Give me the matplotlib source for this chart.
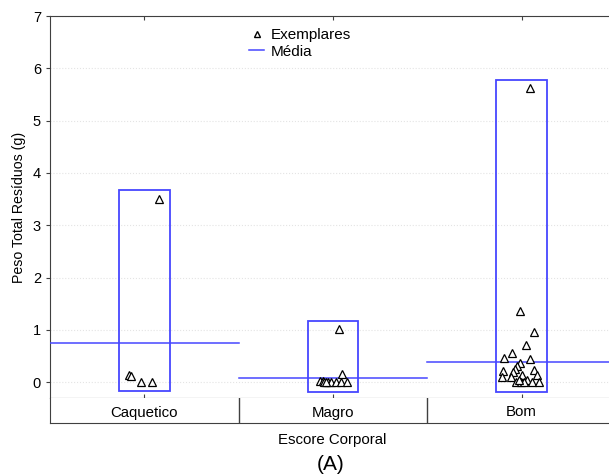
import matplotlib.pyplot as plt
from matplotlib.lines import Line2D

plt.rcParams['font.family'] = ['Liberation Sans', 'DejaVu Sans']

# dados
categorias = ["Caquetico", "Magro", "Bom"]
caixa_min = [-0.17, -0.18, -0.18]
caixa_max = [3.67, 1.17, 5.78]
medias = [0.75, 0.09, 0.39]

caq_valores = [3.51, 0.13, 0.12, 0.0, 0.0]
caq_desloc = [0.08, -0.08, -0.07, -0.02, 0.04]

mag_valores = [1.01, 0.15, 0.02, 0.02, 0.01, 0.0, 0.0, 0.0, 0.0, 0.0, 0.0]
mag_desloc = [0.033, 0.046, -0.067, -0.055, -0.049, -0.028, -0.011, 0.016, 0.042, 0.074, -0.035]

bom_valores = [5.62, 1.36, 0.96, 0.72, 0.56, 0.46, 0.45, 0.36, 0.31, 0.26, 0.24, 0.22,
               0.2, 0.13, 0.11, 0.11, 0.13, 0.04, 0.0, 0.0, 0.0, 0.0, 0.0, 0.04]
bom_desloc = [0.042, -0.01, 0.065, 0.021, -0.049, -0.094, 0.042, -0.009, -0.023, -0.037, 0.065, -0.097,
              -0.044, 0.083, -0.102, -0.058, 0.004, 0.03, -0.032, -0.005, 0.012, 0.057, 0.092, -0.014]

pontos = [(caq_valores, caq_desloc), (mag_valores, mag_desloc), (bom_valores, bom_desloc)]

azul = "#4646ff"
cinza = "#404040"

fig = plt.figure(figsize=(6.09, 4.76), dpi=100)
ax = fig.add_axes([50 / 609, 1 - 398 / 476, 566 / 609, 382 / 476])

# caixas, medias e pontos
for i in range(len(categorias)):
    ax.add_patch(plt.Rectangle((i - 0.135, caixa_min[i]), 0.27, caixa_max[i] - caixa_min[i],
                               fill=False, edgecolor=azul, linewidth=1.3, zorder=3))
    ax.plot([i - 0.5, i + 0.5], [medias[i], medias[i]], color=azul, linewidth=1.1, zorder=3)
    vals, desl = pontos[i]
    ax.plot([i + d for d in desl], vals, linestyle="none", marker="^", markersize=5.8,
            markerfacecolor="white", markeredgecolor="black", markeredgewidth=0.9, zorder=4)

ax.set_xlim(-0.5, 2.5)
ax.set_ylim(-0.3, 7)
ax.set_yticks(range(0, 8))
ax.set_xticks(range(3))
ax.set_xticklabels([])
ax.tick_params(axis="x", direction="in", length=3, top=True, color=cinza)
ax.tick_params(axis="y", direction="out", length=3, labelsize=10.5, color=cinza)
ax.grid(axis="y", color="#e4e4e4", linestyle=":", linewidth=0.8)
ax.set_axisbelow(True)
for s in ax.spines.values():
    s.set_color(cinza)
ax.spines["right"].set_visible(False)
ax.set_ylabel("Peso Total Resíduos (g)", fontsize=10.2, labelpad=5)

# legenda
handles = [
    Line2D([0], [0], marker="^", color="none", markerfacecolor="white", markeredgecolor="black",
           markersize=5, label="Exemplares"),
    Line2D([0], [0], color=azul, linewidth=1.1, label="Média"),
]
ax.legend(handles=handles, loc="upper left", bbox_to_anchor=(0.33, 1.0), frameon=False,
          fontsize=11, handlelength=1.0, handletextpad=0.4, labelspacing=0.15, borderpad=0.3)

# faixa das categorias
ax2 = fig.add_axes([50 / 609, 1 - 423 / 476, 566 / 609, 25 / 476])
ax2.set_xlim(-0.5, 2.5)
ax2.set_ylim(0, 1)
ax2.set_xticks([])
ax2.set_yticks([])
for s in ax2.spines.values():
    s.set_color(cinza)
ax2.spines["top"].set_visible(False)
for d in [0.5, 1.5]:
    ax2.axvline(d, color=cinza, linewidth=1.0)
for i, c in enumerate(categorias):
    ax2.text(i, 0.42, c, ha="center", va="center", fontsize=10.8)

fig.text(332 / 609, 1 - 440 / 476, "Escore Corporal", ha="center", va="center", fontsize=10.8)
fig.text(331 / 609, 1 - 465 / 476, "(A)", ha="center", va="center", fontsize=15)

plt.savefig("out.png", dpi=100)
